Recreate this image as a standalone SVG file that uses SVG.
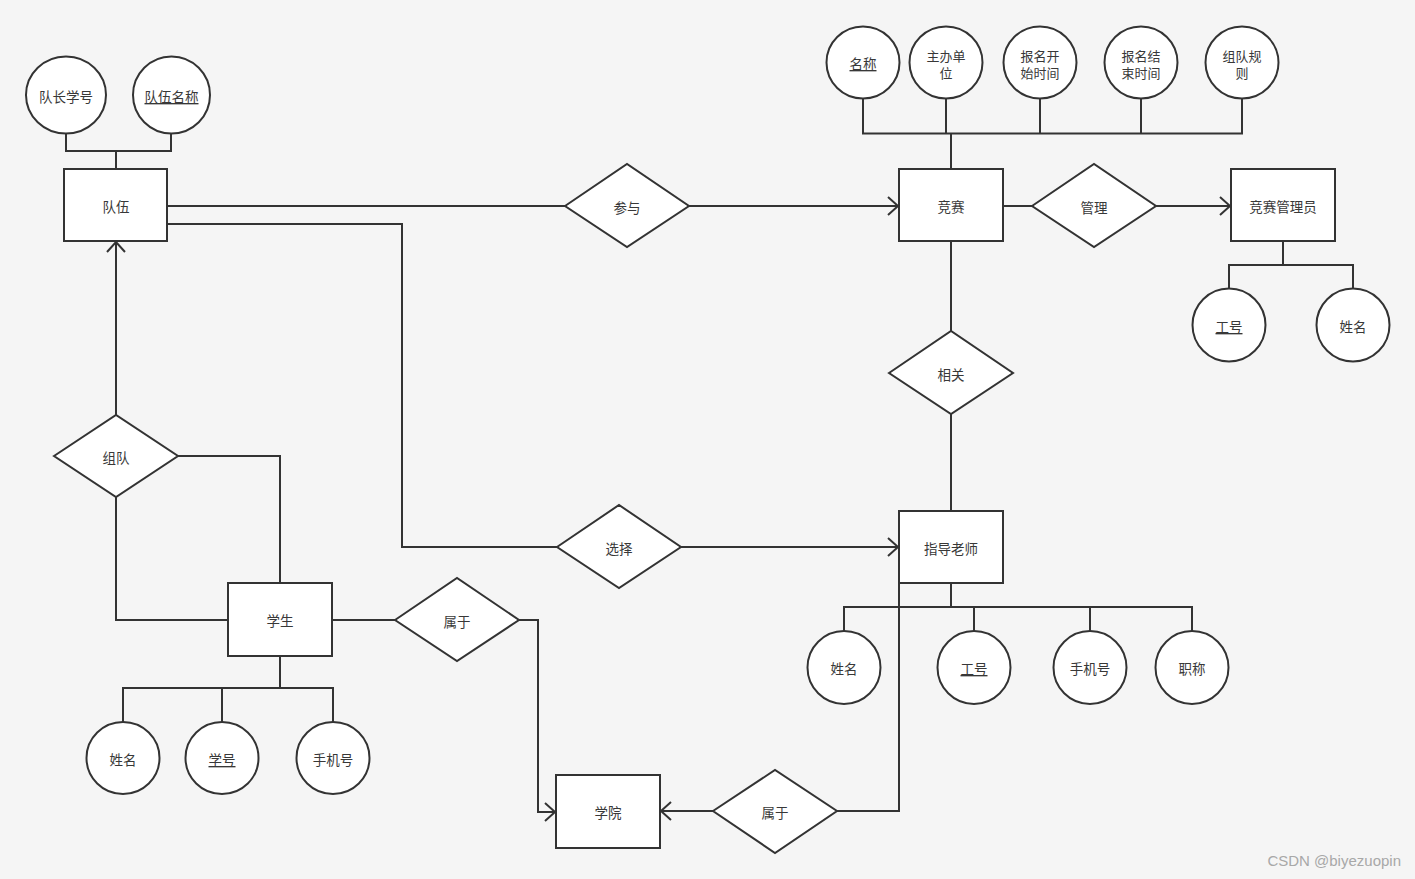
<svg xmlns="http://www.w3.org/2000/svg" width="1415" height="879" viewBox="0 0 1415 879">
<style>
.shape{fill:#ffffff;stroke:#333333;stroke-width:2}
.ln{fill:none;stroke:#333333;stroke-width:2}
.arr{marker-end:url(#chev)}
text{font-family:"Microsoft YaHei","Noto Sans CJK SC","Noto Sans",sans-serif;font-size:13.5px;fill:#383838;text-anchor:middle;dominant-baseline:central}
.two{font-size:13px}
.u{text-decoration:underline}
.wm{font-family:"Liberation Sans",Arial,sans-serif;font-size:15px;fill:#a8a8a8;text-anchor:end;dominant-baseline:auto}
</style>
<defs>
<marker id="chev" markerUnits="userSpaceOnUse" markerWidth="24" markerHeight="24" refX="0" refY="0" viewBox="-12 -12 24 24" orient="auto" overflow="visible">
<path d="M -10 -9 L 0 0 L -10 9" fill="none" stroke="#333333" stroke-width="2"/>
</marker>
</defs>
<rect width="1415" height="879" fill="#f5f5f5"/>
<g id="connectors">
<polyline class="ln" points="66,133 66,151 171,151 171,133"/>
<line class="ln" x1="116" y1="151" x2="116" y2="169"/>
<polyline class="ln" points="863,99 863,133.5 1242,133.5 1242,99"/>
<line class="ln" x1="946" y1="99" x2="946" y2="133.5"/>
<line class="ln" x1="1040" y1="99" x2="1040" y2="133.5"/>
<line class="ln" x1="1141" y1="99" x2="1141" y2="133.5"/>
<line class="ln" x1="951" y1="133.5" x2="951" y2="169"/>
<polyline class="ln" points="1229,289 1229,265 1353,265 1353,289"/>
<line class="ln" x1="1283" y1="241" x2="1283" y2="265"/>
<polyline class="ln" points="844,631 844,607 1192,607 1192,631"/>
<line class="ln" x1="951" y1="583" x2="951" y2="607"/>
<line class="ln" x1="974" y1="607" x2="974" y2="631"/>
<line class="ln" x1="1090" y1="607" x2="1090" y2="631"/>
<polyline class="ln" points="123,722 123,688 333,688 333,722"/>
<line class="ln" x1="222" y1="688" x2="222" y2="722"/>
<line class="ln" x1="280" y1="656" x2="280" y2="688"/>
<line class="ln" x1="167" y1="206" x2="565" y2="206"/>
<line class="ln arr" x1="689" y1="206" x2="898" y2="206"/>
<line class="ln" x1="1003" y1="206" x2="1032" y2="206"/>
<line class="ln arr" x1="1156" y1="206" x2="1230" y2="206"/>
<line class="ln" x1="951" y1="241" x2="951" y2="331"/>
<line class="ln" x1="951" y1="414" x2="951" y2="511"/>
<polyline class="ln" points="167,224 402,224 402,547 557,547"/>
<line class="ln arr" x1="681" y1="547" x2="898" y2="547"/>
<line class="ln arr" x1="116" y1="415" x2="116" y2="242"/>
<polyline class="ln" points="178,456 280,456 280,583"/>
<polyline class="ln" points="116,497 116,620 228,620"/>
<line class="ln" x1="332" y1="620" x2="395" y2="620"/>
<polyline class="ln arr" points="519,620 538,620 538,812 555,812"/>
<polyline class="ln" points="899,583 899,811 837,811"/>
<line class="ln arr" x1="713" y1="811" x2="661" y2="811"/>
</g>
<g id="team">
<rect class="shape" x="64" y="169" width="103" height="72"/>
<text x="116" y="206">队伍</text>
</g>
<g id="team-captain">
<ellipse class="shape" cx="66" cy="95" rx="40" ry="38.5"/>
<text x="66" y="96">队长学号</text>
</g>
<g id="team-name">
<ellipse class="shape" cx="171.5" cy="95" rx="38.5" ry="38.5"/>
<text class="u" x="171.5" y="96">队伍名称</text>
</g>
<g id="join">
<polygon class="shape" points="565,206 627,164 689,206 627,247"/>
<text x="627" y="207">参与</text>
</g>
<g id="competition">
<rect class="shape" x="899" y="169" width="104" height="72"/>
<text x="951" y="206">竞赛</text>
</g>
<g id="comp-name">
<ellipse class="shape" cx="863" cy="62.5" rx="36.5" ry="36"/>
<text class="u" x="863" y="63">名称</text>
</g>
<g id="comp-host">
<ellipse class="shape" cx="946" cy="62.5" rx="36.5" ry="36"/>
<text class="two" x="946" y="55">主办单</text>
<text class="two" x="946" y="72">位</text>
</g>
<g id="comp-start">
<ellipse class="shape" cx="1040" cy="62.5" rx="36.5" ry="36"/>
<text class="two" x="1040" y="55">报名开</text>
<text class="two" x="1040" y="72">始时间</text>
</g>
<g id="comp-end">
<ellipse class="shape" cx="1141" cy="62.5" rx="36.5" ry="36"/>
<text class="two" x="1141" y="55">报名结</text>
<text class="two" x="1141" y="72">束时间</text>
</g>
<g id="comp-rule">
<ellipse class="shape" cx="1242" cy="62.5" rx="36.5" ry="36"/>
<text class="two" x="1242" y="55">组队规</text>
<text class="two" x="1242" y="72">则</text>
</g>
<g id="manage">
<polygon class="shape" points="1032,206 1094,164 1156,206 1094,247"/>
<text x="1094" y="207">管理</text>
</g>
<g id="admin">
<rect class="shape" x="1231" y="169" width="104" height="72"/>
<text x="1283" y="206">竞赛管理员</text>
</g>
<g id="admin-id">
<ellipse class="shape" cx="1229" cy="325" rx="36.5" ry="36.5"/>
<text class="u" x="1229" y="326">工号</text>
</g>
<g id="admin-name">
<ellipse class="shape" cx="1353" cy="325" rx="36.5" ry="36.5"/>
<text x="1353" y="326">姓名</text>
</g>
<g id="related">
<polygon class="shape" points="889,373 951,331 1013,373 951,414"/>
<text x="951" y="374">相关</text>
</g>
<g id="teacher">
<rect class="shape" x="899" y="511" width="104" height="72"/>
<text x="951" y="548">指导老师</text>
</g>
<g id="teacher-name">
<ellipse class="shape" cx="844" cy="667.5" rx="36.5" ry="36.5"/>
<text x="844" y="668">姓名</text>
</g>
<g id="teacher-id">
<ellipse class="shape" cx="974" cy="667.5" rx="36.5" ry="36.5"/>
<text class="u" x="974" y="668">工号</text>
</g>
<g id="teacher-phone">
<ellipse class="shape" cx="1090" cy="667.5" rx="36.5" ry="36.5"/>
<text x="1090" y="668">手机号</text>
</g>
<g id="teacher-title">
<ellipse class="shape" cx="1192" cy="667.5" rx="36.5" ry="36.5"/>
<text x="1192" y="668">职称</text>
</g>
<g id="choose">
<polygon class="shape" points="557,547 619,505 681,547 619,588"/>
<text x="619" y="548">选择</text>
</g>
<g id="form-team">
<polygon class="shape" points="54,456 116,415 178,456 116,497"/>
<text x="116" y="457">组队</text>
</g>
<g id="student">
<rect class="shape" x="228" y="583" width="104" height="73"/>
<text x="280" y="620">学生</text>
</g>
<g id="student-name">
<ellipse class="shape" cx="123" cy="758" rx="36.5" ry="36"/>
<text x="123" y="759">姓名</text>
</g>
<g id="student-id">
<ellipse class="shape" cx="222" cy="758" rx="36.5" ry="36"/>
<text class="u" x="222" y="759">学号</text>
</g>
<g id="student-phone">
<ellipse class="shape" cx="333" cy="758" rx="36.5" ry="36"/>
<text x="333" y="759">手机号</text>
</g>
<g id="belong-student">
<polygon class="shape" points="395,620 457,578 519,620 457,661"/>
<text x="457" y="621">属于</text>
</g>
<g id="college">
<rect class="shape" x="556" y="775" width="104" height="73"/>
<text x="608" y="812">学院</text>
</g>
<g id="belong-teacher">
<polygon class="shape" points="713,811 775,770 837,811 775,853"/>
<text x="775" y="812">属于</text>
</g>
<text class="wm" x="1401" y="866">CSDN @biyezuopin</text>
</svg>
